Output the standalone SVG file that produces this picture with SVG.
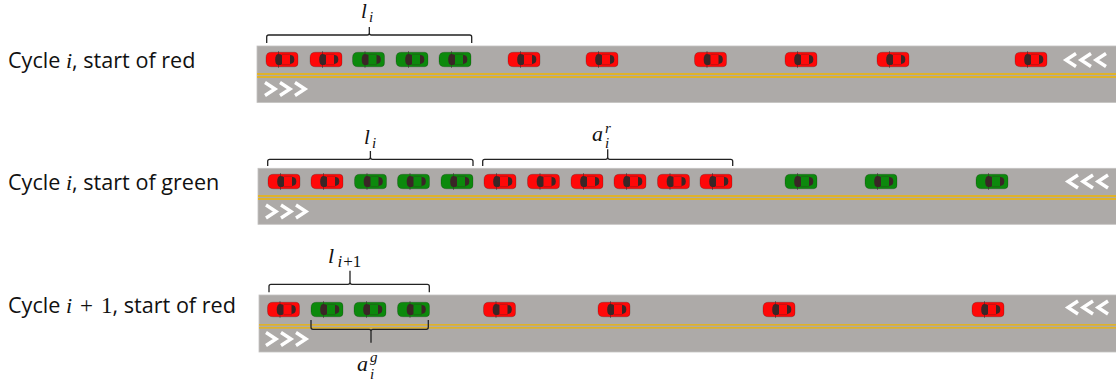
<svg xmlns="http://www.w3.org/2000/svg" xmlns:xlink="http://www.w3.org/1999/xlink" width="1116" height="387" viewBox="0 0 1116 387">
  <style>
    .road { fill: #adaaa8; stroke: #c4c2c0; stroke-width: 0.8; }
    .yellow { stroke: #f0b400; stroke-width: 1.3; fill: none; }
    .chev { fill: none; stroke: #ffffff; stroke-width: 3.4; stroke-linejoin: miter; stroke-linecap: butt; }
    .brace { fill: none; stroke: #222222; stroke-width: 1.3; }
    .lbl { font-family: "Open Sans", "Liberation Sans", sans-serif; font-size: 21.6px; fill: #111111; }
    .mi { font-family: "Liberation Serif", "DejaVu Serif", serif; font-style: italic; fill: #111111; }
    .mu { font-family: "Liberation Serif", "DejaVu Serif", serif; fill: #111111; }
    .red { color: #ff0808; }
    .green { color: #0c890c; }
  </style>
  <defs>
    <!-- top view of a car, nose pointing left, centred on 0,0 -->
    <g id="car">
      <path d="M-10.5,-7.3 H12.5 Q16,-7.3 16,-3.5 V3.5 Q16,7.3 12.5,7.3 H-10.5 Q-16,7.3 -16,2 V-2 Q-16,-7.3 -10.5,-7.3 Z" fill="currentColor" stroke="#000000" stroke-opacity="0.22" stroke-width="0.9"/>
      <line x1="-3.5" y1="-8.4" x2="-3.5" y2="8.4" stroke="#3a2a2a" stroke-opacity="0.7" stroke-width="0.8"/>
      <path d="M-3.5,-5.6 Q0,-5.6 0,-4 V4 Q0,5.6 -3.5,5.6 Q-6.8,5.6 -6.8,0 Q-6.8,-5.6 -3.5,-5.6 Z" fill="#3a2626"/>
      <path d="M8,-4.4 Q12.3,-4.4 12.3,0 Q12.3,4.4 8,4.4 Z" fill="#3a2626"/>
      <line x1="0" y1="-5.2" x2="8.5" y2="-5.2" stroke="#3a2626" stroke-opacity="0.45" stroke-width="0.7"/>
      <line x1="0" y1="5.2" x2="8.5" y2="5.2" stroke="#3a2626" stroke-opacity="0.45" stroke-width="0.7"/>
    </g>
    <!-- lane direction arrows -->
    <g id="chev-right">
      <polyline class="chev" points="0,-6.5 10,0 0,6.5"/>
      <polyline class="chev" points="15,-6.5 25,0 15,6.5"/>
      <polyline class="chev" points="30,-6.5 40,0 30,6.5"/>
    </g>
    <g id="chev-left">
      <polyline class="chev" points="10,-6.5 0,0 10,6.5"/>
      <polyline class="chev" points="25,-6.5 15,0 25,6.5"/>
      <polyline class="chev" points="40,-6.5 30,0 40,6.5"/>
    </g>
  </defs>

  <!-- Cycle i, start of red -->
  <g id="row-red-i">
    <text class="lbl" x="8" y="68.3">Cycle <tspan class="mi" font-size="22">i</tspan>, start of red</text>
    <rect class="road" x="257" y="46" width="870" height="56.5"/>
    <line class="yellow" x1="257" y1="74" x2="1116" y2="74"/>
    <line class="yellow" x1="257" y1="77" x2="1116" y2="77"/>
    <use xlink:href="#chev-right" x="265" y="89"/>
    <use xlink:href="#chev-left" x="1066" y="60"/>
    <use xlink:href="#car" class="red" x="282" y="59.5"/>
    <use xlink:href="#car" class="red" x="326" y="59.5"/>
    <use xlink:href="#car" class="green" x="368.5" y="59.5"/>
    <use xlink:href="#car" class="green" x="412" y="59.5"/>
    <use xlink:href="#car" class="green" x="455" y="59.5"/>
    <use xlink:href="#car" class="red" x="524" y="59.5"/>
    <use xlink:href="#car" class="red" x="602" y="59.5"/>
    <use xlink:href="#car" class="red" x="710.5" y="59.5"/>
    <use xlink:href="#car" class="red" x="801" y="59.5"/>
    <use xlink:href="#car" class="red" x="893" y="59.5"/>
    <use xlink:href="#car" class="red" x="1031" y="59.5"/>
  </g>

  <!-- Cycle i, start of green -->
  <g id="row-green-i">
    <text class="lbl" x="8" y="190">Cycle <tspan class="mi" font-size="22">i</tspan>, start of green</text>
    <rect class="road" x="258" y="168.3" width="870" height="56"/>
    <line class="yellow" x1="258" y1="196" x2="1116" y2="196"/>
    <line class="yellow" x1="258" y1="199" x2="1116" y2="199"/>
    <use xlink:href="#chev-right" x="266" y="211.5"/>
    <use xlink:href="#chev-left" x="1068" y="181.5"/>
    <use xlink:href="#car" class="red" x="284" y="181.5"/>
    <use xlink:href="#car" class="red" x="327" y="181.5"/>
    <use xlink:href="#car" class="green" x="370.5" y="181.5"/>
    <use xlink:href="#car" class="green" x="413.5" y="181.5"/>
    <use xlink:href="#car" class="green" x="457" y="181.5"/>
    <use xlink:href="#car" class="red" x="500" y="181.5"/>
    <use xlink:href="#car" class="red" x="543.5" y="181.5"/>
    <use xlink:href="#car" class="red" x="587" y="181.5"/>
    <use xlink:href="#car" class="red" x="630" y="181.5"/>
    <use xlink:href="#car" class="red" x="673.5" y="181.5"/>
    <use xlink:href="#car" class="red" x="716" y="181.5"/>
    <use xlink:href="#car" class="green" x="801" y="181.5"/>
    <use xlink:href="#car" class="green" x="881" y="181.5"/>
    <use xlink:href="#car" class="green" x="992" y="181.5"/>
  </g>

  <!-- Cycle i+1, start of red -->
  <g id="row-red-i1">
    <text class="lbl" x="8" y="313">Cycle <tspan class="mi" font-size="22">i</tspan><tspan class="mu" font-size="23" dx="8">+</tspan><tspan class="mu" font-size="23" dx="8">1</tspan>, start of red</text>
    <rect class="road" x="259" y="295" width="870" height="57"/>
    <line class="yellow" x1="259" y1="324.8" x2="1116" y2="324.8"/>
    <line class="yellow" x1="259" y1="327.8" x2="1116" y2="327.8"/>
    <use xlink:href="#chev-right" x="266" y="339"/>
    <use xlink:href="#chev-left" x="1068" y="307.5"/>
    <use xlink:href="#car" class="red" x="283.5" y="309.5"/>
    <use xlink:href="#car" class="green" x="327" y="309.5"/>
    <use xlink:href="#car" class="green" x="370" y="309.5"/>
    <use xlink:href="#car" class="green" x="413.5" y="309.5"/>
    <use xlink:href="#car" class="red" x="499.5" y="309.5"/>
    <use xlink:href="#car" class="red" x="614" y="309.5"/>
    <use xlink:href="#car" class="red" x="779" y="309.5"/>
    <use xlink:href="#car" class="red" x="988" y="309.5"/>
  </g>

  <!-- braces marking queue and arrival groups -->
  <g id="braces">
    <path class="brace" d="M266.7,43 V37 Q266.7,35 268.7,35 H367.3 Q369.3,35 369.3,33 V27 M369.3,33 Q369.3,35 371.3,35 H469.7 Q471.7,35 471.7,37 V43"/>
    <path class="brace" d="M267.7,166 V161.3 Q267.7,159.3 269.7,159.3 H368.4 Q370.4,159.3 370.4,157.3 V151 M370.4,157.3 Q370.4,159.3 372.4,159.3 H471 Q473,159.3 473,161.3 V166"/>
    <path class="brace" d="M482.7,166 V161.3 Q482.7,159.3 484.7,159.3 H605.7 Q607.7,159.3 607.7,157.3 V149.3 M607.7,157.3 Q607.7,159.3 609.7,159.3 H730.7 Q732.7,159.3 732.7,161.3 V166"/>
    <path class="brace" d="M269,292.3 V286.3 Q269,284.3 271,284.3 H348 Q350,284.3 350,282.3 V270.7 M350,282.3 Q350,284.3 352,284.3 H427.3 Q429.3,284.3 429.3,286.3 V292.3"/>
    <path class="brace" d="M311,320 V327.3 Q311,329.3 313,329.3 H369 Q371,329.3 371,331.3 V342.7 M371,331.3 Q371,329.3 373,329.3 H426.3 Q428.3,329.3 428.3,327.3 V320"/>
  </g>

  <!-- brace labels -->
  <g id="label-l-top">
    <text class="mi" x="361" y="18" font-size="21">l</text>
    <text class="mi" x="369" y="22" font-size="15">i</text>
  </g>
  <g id="label-l-mid">
    <text class="mi" x="364" y="144" font-size="21">l</text>
    <text class="mi" x="372" y="148" font-size="15">i</text>
  </g>
  <g id="label-a-r">
    <text class="mi" x="592" y="140.7" font-size="22">a</text>
    <text class="mi" x="605" y="133" font-size="15">r</text>
    <text class="mi" x="605" y="148" font-size="15">i</text>
  </g>
  <g id="label-l-bottom">
    <text class="mi" x="328" y="263.3" font-size="22">l</text>
    <text x="337.5" y="267" font-size="17"><tspan class="mi">i</tspan><tspan class="mu" dx="1">+1</tspan></text>
  </g>
  <g id="label-a-g">
    <text class="mi" x="357" y="370.7" font-size="22">a</text>
    <text class="mi" x="370" y="362" font-size="15">g</text>
    <text class="mi" x="370" y="379" font-size="15">i</text>
  </g>
</svg>
